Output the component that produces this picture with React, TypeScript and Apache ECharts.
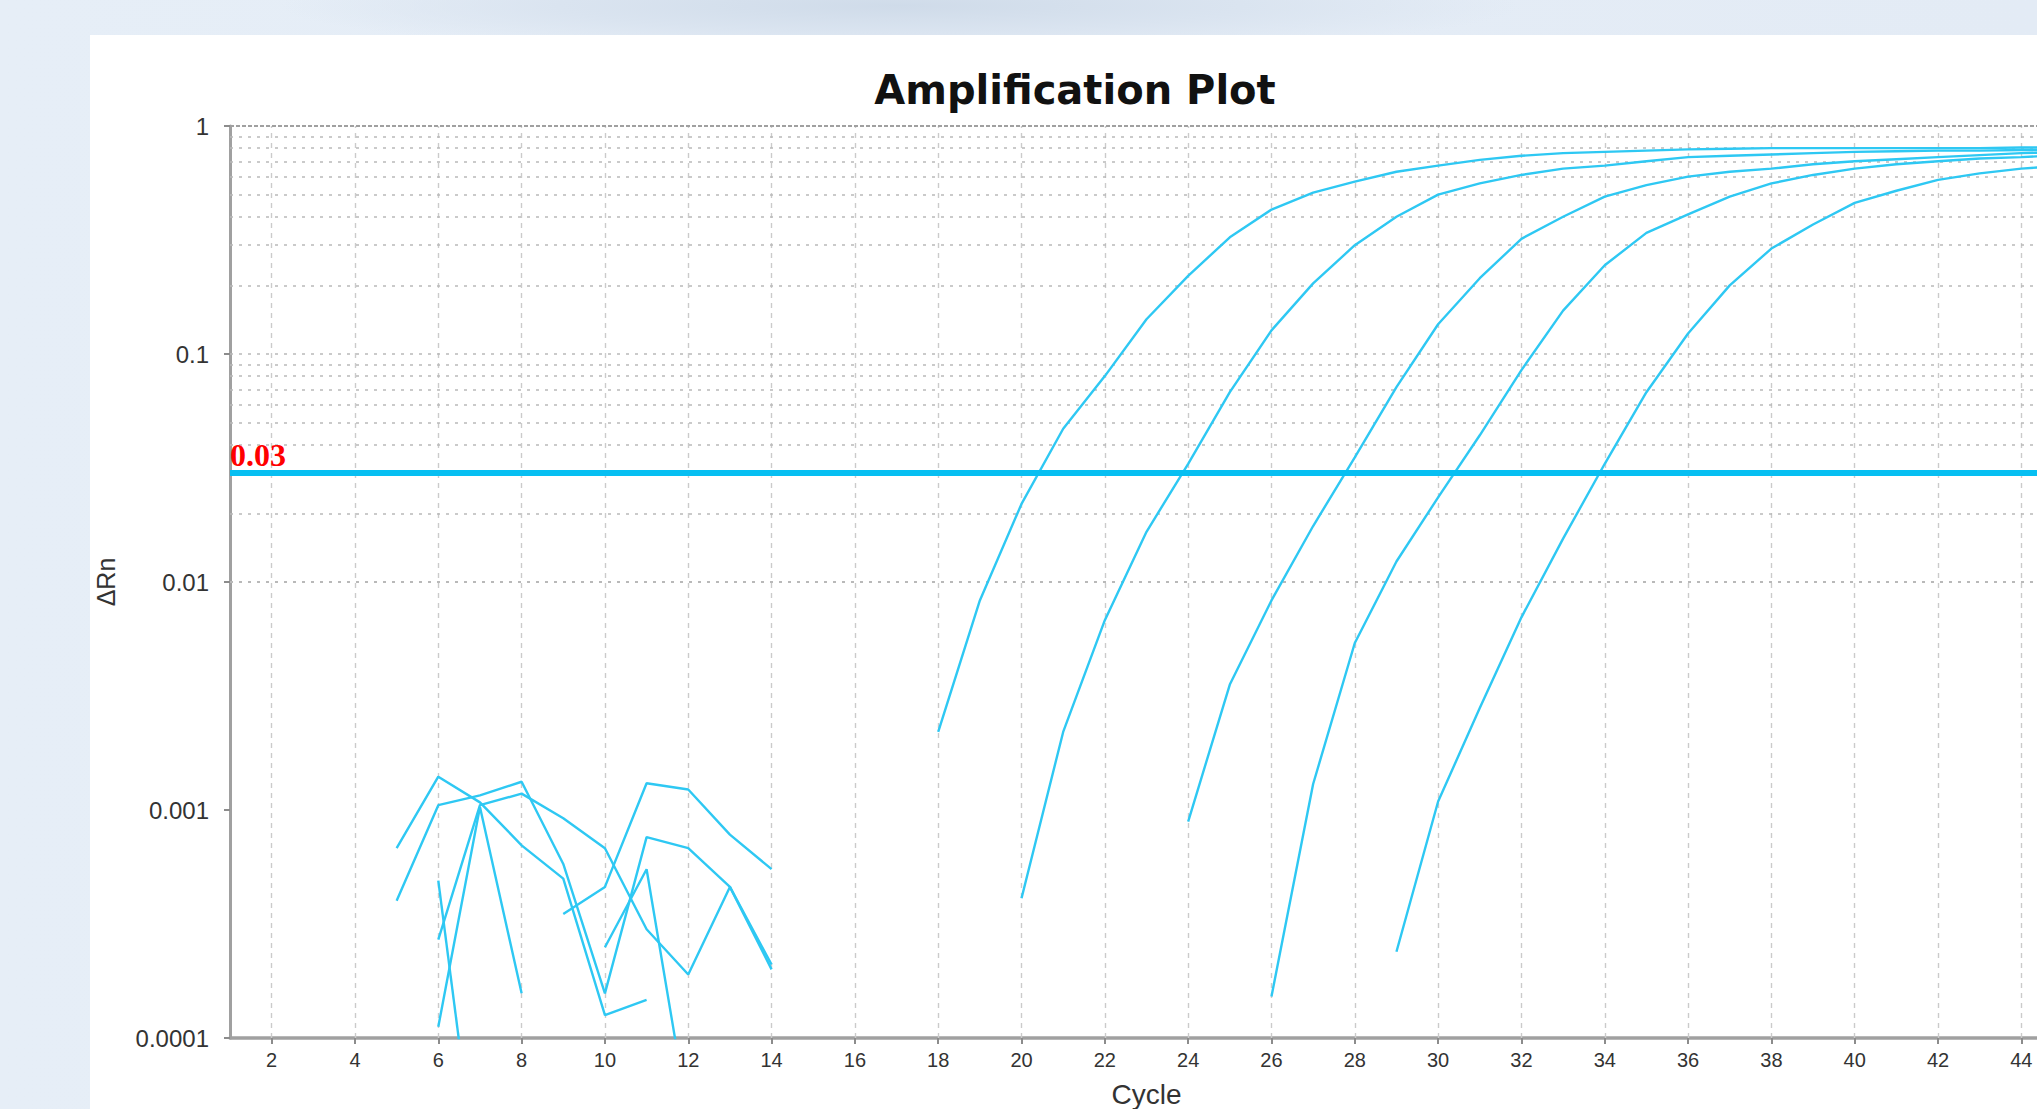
import React, { useEffect, useRef } from "react";
import * as echarts from "echarts";

// ---------- texts & axis settings ----------
const titleText = "Amplification Plot";
const xAxisName = "Cycle";
const yAxisName = "ΔRn";
const cycleMin = 1;
const cycleMax = 45;
const cycleTicks = [2, 4, 6, 8, 10, 12, 14, 16, 18, 20, 22, 24, 26, 28, 30, 32, 34, 36, 38, 40, 42, 44];
const deltaRnMin = 0.0001;
const deltaRnMax = 1;
const decades = [0.0001, 0.001, 0.01, 0.1];
const minorSteps = [1, 2, 3, 4, 5, 6, 7, 8, 9];
const threshold = 0.03;

// ---------- amplification curves (start cycle + ΔRn per cycle) ----------
const ampAStart = 18;
const ampA = [0.0022, 0.0083, 0.022, 0.047, 0.08, 0.142, 0.22, 0.325, 0.43, 0.51, 0.57, 0.63, 0.67, 0.71, 0.74, 0.76, 0.77, 0.78, 0.79, 0.795, 0.8, 0.8, 0.8, 0.8, 0.8, 0.8, 0.805, 0.805];
const ampBStart = 20;
const ampB = [0.00041, 0.0022, 0.0068, 0.0166, 0.033, 0.068, 0.127, 0.204, 0.3, 0.4, 0.5, 0.56, 0.61, 0.65, 0.67, 0.7, 0.73, 0.74, 0.75, 0.76, 0.77, 0.775, 0.78, 0.78, 0.785, 0.785];
const ampCStart = 24;
const ampC = [0.00089, 0.00355, 0.0083, 0.0176, 0.0352, 0.0716, 0.135, 0.215, 0.32, 0.4, 0.49, 0.55, 0.6, 0.63, 0.65, 0.68, 0.7, 0.715, 0.73, 0.745, 0.76, 0.77];
const ampDStart = 26;
const ampD = [0.000152, 0.0013, 0.0054, 0.0123, 0.0235, 0.044, 0.085, 0.155, 0.245, 0.34, 0.41, 0.49, 0.56, 0.61, 0.65, 0.68, 0.7, 0.72, 0.73, 0.745];
const ampEStart = 29;
const ampE = [0.000239, 0.00109, 0.0028, 0.007, 0.0155, 0.033, 0.068, 0.123, 0.2, 0.29, 0.37, 0.46, 0.52, 0.58, 0.62, 0.65, 0.67];

// ---------- early-cycle noise segments ----------
const noiseAStart = 5;
const noiseA = [0.00068, 0.0014, 0.00108, 0.0007, 0.0005, 0.000126, 0.000147];
const noiseBStart = 5;
const noiseB = [0.0004, 0.00105, 0.00116, 0.00133, 0.00058, 0.000157, 0.00076, 0.00068, 0.00046, 0.00021];
const noiseCStart = 6;
const noiseC = [0.00027, 0.00105, 0.00118, 0.00092, 0.00068, 0.0003, 0.00019, 0.00046, 0.0002];
const noiseDStart = 6;
const noiseD = [0.000112, 0.00103, 0.000157];
const noiseEStart = 9;
const noiseE = [0.00035, 0.00046, 0.00131, 0.00123, 0.00078, 0.00055];
const noiseFStart = 10;
const noiseF = [0.00025, 0.00055, 0.000045];
const noiseGStart = 6;
const noiseG = [0.00049, 0.000019];

const curveSets: [number, number[]][] = [
  [ampAStart, ampA],
  [ampBStart, ampB],
  [ampCStart, ampC],
  [ampDStart, ampD],
  [ampEStart, ampE],
  [noiseAStart, noiseA],
  [noiseBStart, noiseB],
  [noiseCStart, noiseC],
  [noiseDStart, noiseD],
  [noiseEStart, noiseE],
  [noiseFStart, noiseF],
  [noiseGStart, noiseG],
];

const CURVE_COLOR = "#2ec8f3";
const THRESH_COLOR = "#06bff2";
const AXIS_FONT = '"Liberation Sans", Arial, sans-serif';

function toPoints(start: number, values: number[]) {
  return values.map((v, i) => [start + i, v]);
}

export default function App() {
  const ref = useRef<HTMLDivElement>(null);

  useEffect(() => {
    if (!ref.current) return;
    const chart = echarts.init(ref.current, null, { renderer: "svg" });

    const hGrid: any[] = [];
    decades.forEach((d) => {
      minorSteps.forEach((k) => {
        const v = d * k;
        if (v > deltaRnMin * 1.0001 && v < deltaRnMax * 0.9999) {
          hGrid.push({ yAxis: v, lineStyle: { color: "#b9b9b9", width: 1.6, type: [3, 6] } });
        }
      });
    });
    const vGrid = cycleTicks.map((c) => ({
      xAxis: c,
      lineStyle: { color: "#cbcbcb", width: 1.4, type: [5, 5] },
    }));
    const topBorder = { yAxis: deltaRnMax, lineStyle: { color: "#a0a0a0", width: 2, type: [4, 2] } };

    const curveSeries = curveSets.map(([start, vals], i) => ({
      type: "line",
      name: "s" + i,
      data: toPoints(start, vals),
      showSymbol: false,
      symbol: "none",
      silent: true,
      z: 3,
      clip: true,
      lineStyle: { color: CURVE_COLOR, width: 2.4 },
      emphasis: { disabled: true },
    }));

    const option: any = {
      animation: false,
      backgroundColor: "transparent",
      grid: {
        left: 230,
        top: 126,
        right: 37,
        bottom: 71,
        containLabel: false,
        outerBoundsMode: "none",
      },
      graphic: [
        {
          type: "text",
          x: 1075,
          y: 90,
          style: {
            text: titleText,
            fill: "#111111",
            fontSize: 40,
            fontWeight: "bold",
            fontFamily: '"DejaVu Sans", Verdana, sans-serif',
            align: "center",
            verticalAlign: "middle",
          },
        },
      ],
      xAxis: {
        type: "value",
        min: cycleMin,
        max: cycleMax,
        name: xAxisName,
        nameLocation: "middle",
        nameGap: 42,
        nameMoveOverlap: false,
        nameTextStyle: { fontSize: 28, color: "#333333", fontFamily: AXIS_FONT },
        axisLine: { show: true, onZero: false, lineStyle: { color: "#a0a0a0", width: 3.5 } },
        axisTick: { show: true, length: 6, customValues: cycleTicks, lineStyle: { color: "#8c8c8c", width: 2 } },
        axisLabel: {
          show: true,
          customValues: cycleTicks,
          fontSize: 20,
          margin: 12,
          color: "#333333",
          fontFamily: AXIS_FONT,
        },
        splitLine: { show: false },
      },
      yAxis: {
        type: "log",
        logBase: 10,
        min: deltaRnMin,
        max: deltaRnMax,
        name: yAxisName,
        nameLocation: "middle",
        nameGap: 112,
        nameMoveOverlap: false,
        nameTextStyle: { fontSize: 25, color: "#333333", fontFamily: AXIS_FONT },
        axisLine: { show: true, lineStyle: { color: "#a0a0a0", width: 3 } },
        axisTick: { show: true, length: 6, lineStyle: { color: "#8c8c8c", width: 2 } },
        axisLabel: {
          show: true,
          fontSize: 24,
          margin: 21,
          color: "#333333",
          fontFamily: AXIS_FONT,
          formatter: (v: number) => String(Number(Number(v).toPrecision(6))),
        },
        splitLine: { show: false },
        minorTick: { show: false },
        minorSplitLine: { show: false },
      },
      series: [
        {
          type: "line",
          name: "grid",
          data: [],
          silent: true,
          markLine: {
            silent: true,
            z: 1,
            symbol: ["none", "none"],
            animation: false,
            label: { show: false },
            emphasis: { disabled: true },
            data: [...vGrid, ...hGrid, topBorder],
          },
        },
        ...curveSeries,
        {
          type: "line",
          name: "threshold",
          data: [],
          silent: true,
          markLine: {
            silent: true,
            z: 4,
            symbol: ["none", "none"],
            animation: false,
            lineStyle: { color: THRESH_COLOR, width: 6, type: "solid" },
            label: {
              show: true,
              position: "insideStartTop",
              distance: [0, 2],
              formatter: () => String(threshold),
              color: "#ff0000",
              fontSize: 32,
              fontWeight: "bold",
              fontFamily: '"Liberation Serif", "Times New Roman", serif',
            },
            emphasis: { disabled: true },
            data: [{ yAxis: threshold }],
          },
        },
      ],
    };

    chart.setOption(option);
    return () => {
      chart.dispose();
    };
  }, []);

  return (
    <div
      style={{
        position: "fixed",
        left: 0,
        top: 0,
        width: 2037,
        height: 1109,
        overflow: "hidden",
        background:
          "radial-gradient(ellipse 620px 48px at 900px 6px, #cfdbe9 0%, #dae4f0 55%, rgba(228,236,246,0) 100%), linear-gradient(90deg, #e6eef7 0%, #e3ebf5 100%)",
      }}
    >
      <div
        style={{
          position: "absolute",
          left: 90,
          top: 35,
          width: 2037 - 90,
          height: 1109 - 35,
          background: "#ffffff",
        }}
      />
      <div ref={ref} style={{ position: "absolute", left: 0, top: 0, width: 2100, height: 1109 }} />
    </div>
  );
}
